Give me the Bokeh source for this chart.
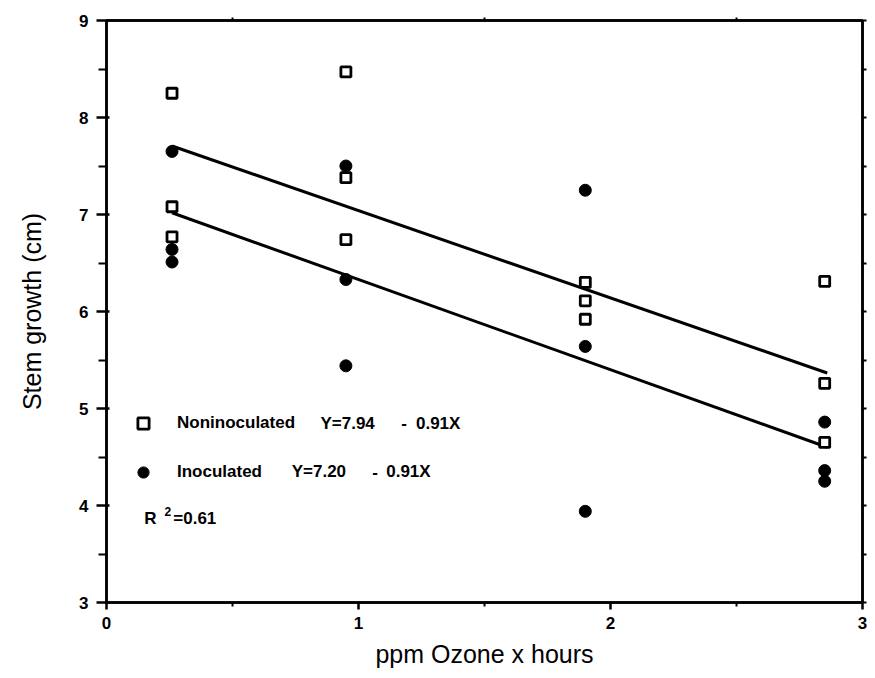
from bokeh.plotting import figure
from bokeh.models import Range1d, LinearAxis, Label, Legend, LegendItem, FixedTicker
from bokeh.embed import file_html
from bokeh.resources import INLINE

# ---- data ----
non_x = [0.26, 0.26, 0.26, 0.95, 0.95, 0.95, 1.90, 1.90, 1.90, 2.85, 2.85, 2.85]
non_y = [8.25, 7.08, 6.77, 8.47, 7.38, 6.74, 6.30, 6.11, 5.92, 6.31, 5.26, 4.65]
ino_x = [0.26, 0.26, 0.26, 0.95, 0.95, 0.95, 1.90, 1.90, 1.90, 2.85, 2.85, 2.85]
ino_y = [7.65, 6.64, 6.51, 7.50, 6.33, 5.44, 7.25, 5.64, 3.94, 4.86, 4.36, 4.25]

fit_x_range = [0.26, 2.86]
fit_intercept = [7.94, 7.26]
fit_slope = [-0.90, -0.93]

series_names = ["Noninoculated", "Inoculated"]
equations = [("Y=7.94", "-", "0.91X"), ("Y=7.20", "-", "0.91X")]
r2_text = ("R", "2", "=0.61")

x_ticks = [0, 1, 2, 3]
x_minor = [0.5, 1.5, 2.5]
y_ticks = [3, 4, 5, 6, 7, 8, 9]
y_minor = [3.5, 4.5, 5.5, 6.5, 7.5, 8.5]

FONT = "Liberation Sans"

p = figure(width=867, height=670, output_backend="svg", toolbar_location=None,
           x_range=Range1d(0, 3), y_range=Range1d(3, 9),
           min_border_left=106, min_border_top=20, min_border_right=5, min_border_bottom=60,
           x_axis_label="ppm Ozone x hours", y_axis_label="Stem growth (cm)")
p.background_fill_color = "white"
p.border_fill_color = "white"
p.grid.visible = False
p.outline_line_color = "black"
p.outline_line_width = 2.5

for ax in (p.xaxis[0], p.yaxis[0]):
    ax.axis_line_width = 2.5
    ax.major_tick_line_width = 2.5
    ax.minor_tick_line_width = 2
    ax.major_label_text_font = FONT
    ax.major_label_text_font_style = "bold"
    ax.major_label_text_font_size = "17px"
    ax.major_label_text_color = "black"
    ax.axis_label_text_font = FONT
    ax.axis_label_text_font_style = "normal"
    ax.axis_label_text_font_size = "25px"
    ax.axis_label_text_color = "black"

p.xaxis[0].ticker = FixedTicker(ticks=x_ticks, minor_ticks=x_minor)
p.yaxis[0].ticker = FixedTicker(ticks=y_ticks, minor_ticks=y_minor)
p.xaxis[0].major_tick_out = 7
p.xaxis[0].major_tick_in = 0
p.xaxis[0].minor_tick_out = 4
p.xaxis[0].minor_tick_in = 0
p.xaxis[0].major_label_standoff = 7
p.xaxis[0].axis_label_standoff = 8
p.yaxis[0].major_tick_out = 10
p.yaxis[0].major_tick_in = 3
p.yaxis[0].minor_tick_out = 8
p.yaxis[0].minor_tick_in = 0
p.yaxis[0].major_label_standoff = 8
p.yaxis[0].axis_label_standoff = 30

# right and top axes (unlabelled ticks only)
right = LinearAxis(ticker=FixedTicker(ticks=[], minor_ticks=y_ticks + y_minor),
                   major_label_standoff=0, axis_line_width=2.5,
                   major_tick_out=0, major_tick_in=0,
                   minor_tick_out=4, minor_tick_in=0, minor_tick_line_width=2)
p.add_layout(right, "right")
top = LinearAxis(ticker=FixedTicker(ticks=[], minor_ticks=x_minor),
                 major_label_standoff=0, axis_line_width=2.5,
                 major_tick_out=0, major_tick_in=0,
                 minor_tick_out=3, minor_tick_in=0, minor_tick_line_width=2)
p.add_layout(top, "above")

# fitted lines
for b, m in zip(fit_intercept, fit_slope):
    ys = [b + m * x for x in fit_x_range]
    p.line(fit_x_range, ys, line_color="black", line_width=3)

# points
r_non = p.scatter(non_x, non_y, marker="square", size=10, fill_color="white",
                  line_color="black", line_width=2.8)
r_ino = p.scatter(ino_x, ino_y, marker="circle", size=12, fill_color="black",
                  line_color="black", line_width=1)

legend = Legend(items=[LegendItem(label=series_names[0], renderers=[r_non]),
                       LegendItem(label=series_names[1], renderers=[r_ino])],
                location=(23, 116), orientation="vertical",
                glyph_width=28, glyph_height=28, label_height=28, spacing=21,
                label_standoff=20, padding=0, margin=0,
                border_line_color=None, background_fill_alpha=0,
                label_text_font=FONT, label_text_font_style="bold",
                label_text_font_size="17px", label_text_color="black")
p.add_layout(legend, "center")

# equation texts
eq_y = [4.85, 4.35]
eq_x = [(0.849, 1.170, 1.228), (0.735, 1.055, 1.110)]
for (a, dash, b), (xa, xd, xb), yy in zip(equations, eq_x, eq_y):
    for t, xx in ((a, xa), (dash, xd), (b, xb)):
        p.add_layout(Label(x=xx, y=yy, text=t, text_font=FONT, text_font_style="bold",
                           text_font_size="17px", text_baseline="middle", text_color="black"))

p.add_layout(Label(x=0.15, y=3.87, text=r2_text[0], text_font=FONT, text_font_style="bold",
                   text_font_size="17px", text_baseline="middle", text_color="black"))
p.add_layout(Label(x=0.23, y=3.94, text=r2_text[1], text_font=FONT, text_font_style="bold",
                   text_font_size="12px", text_baseline="middle", text_color="black"))
p.add_layout(Label(x=0.265, y=3.87, text=r2_text[2], text_font=FONT, text_font_style="bold",
                   text_font_size="17px", text_baseline="middle", text_color="black"))

open("out.html", "w").write(file_html(p, INLINE))
